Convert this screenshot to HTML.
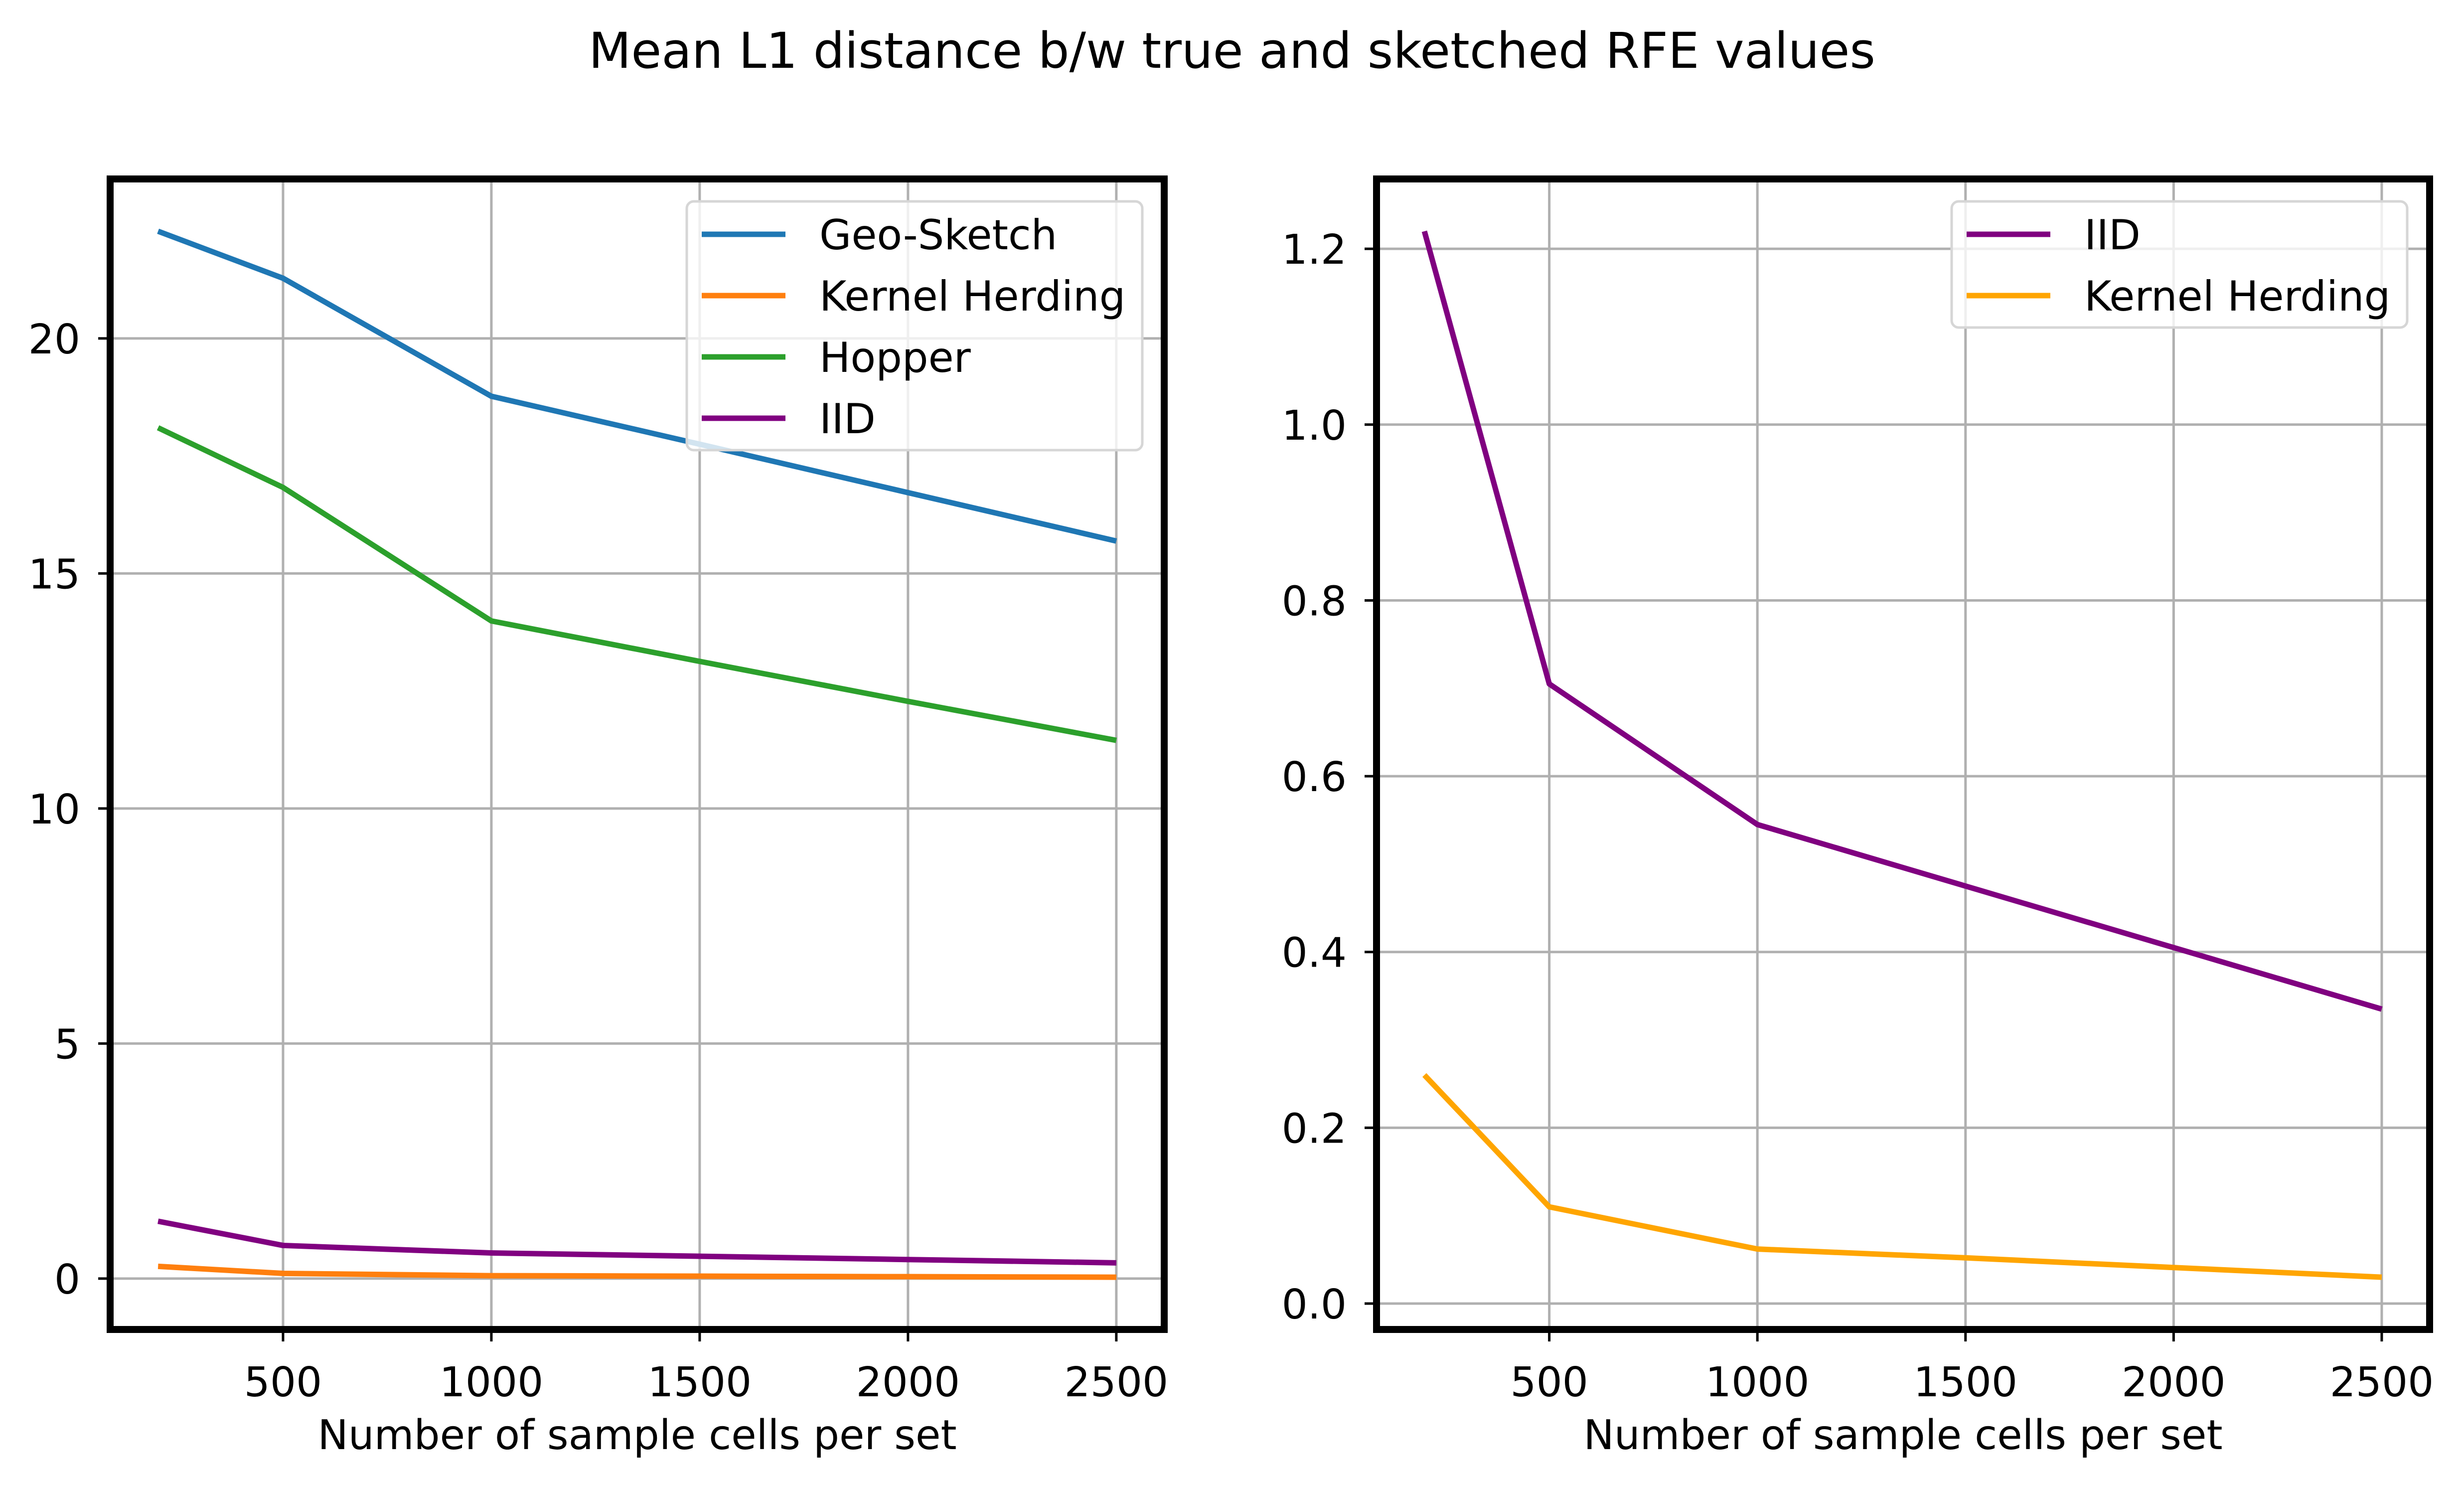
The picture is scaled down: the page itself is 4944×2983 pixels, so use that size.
<!DOCTYPE html>
<html><head><meta charset="utf-8"><style>
html,body{margin:0;padding:0;background:#fff;}
svg{display:block;font-family:"DejaVu Sans","Liberation Sans",sans-serif;}
</style></head><body>
<svg id="fig" width="4944" height="2983" viewBox="0 0 4944 2983" xmlns="http://www.w3.org/2000/svg">
<rect width="4944" height="2983" fill="#fff"/>
<text x="2472" y="136" font-size="99" text-anchor="middle">Mean L1 distance b/w true and sketched RFE values</text>
<g id="left"></g><g id="right"></g>
</svg>
<script>
const xValues = [200, 500, 1000, 1500, 2000, 2500];
const geoSketch = [22.28, 21.28, 18.77, 17.75, 16.72, 15.69];
const kernelHerding = [0.26, 0.11, 0.062, 0.052, 0.041, 0.03];
const hopper = [18.1, 16.83, 13.99, 13.13, 12.28, 11.45];
const iid = [1.22, 0.705, 0.545, 0.475, 0.405, 0.335];
const xTicks = [500, 1000, 1500, 2000, 2500];
const leftYTicks = [0, 5, 10, 15, 20];
const rightYTicks = [0.0, 0.2, 0.4, 0.6, 0.8, 1.0, 1.2];
const rightYLabels = ["0.0", "0.2", "0.4", "0.6", "0.8", "1.0", "1.2"];

const NS = "http://www.w3.org/2000/svg";
function mk(tag, attrs, parent) {
  const e = document.createElementNS(NS, tag);
  for (const k in attrs) e.setAttribute(k, attrs[k]);
  parent.appendChild(e);
  return e;
}
function extent(arrs) {
  let mn = Infinity, mx = -Infinity;
  arrs.forEach(a => a.forEach(v => { mn = Math.min(mn, v); mx = Math.max(mx, v); }));
  const m = (mx - mn) * 0.05;
  return [mn - m, mx + m];
}
function drawPanel(g, L, R, T, B, series, yTicks, yLabels, legend) {
  const xe = extent([xValues]);
  const ye = extent(series.map(s => s.data));
  const sx = v => L + (v - xe[0]) / (xe[1] - xe[0]) * (R - L);
  const sy = v => B - (v - ye[0]) / (ye[1] - ye[0]) * (B - T);
  xTicks.forEach(t => {
    const x = sx(t);
    const gl = mk('line', {x1: x, x2: x, y1: T, y2: B, stroke: '#b0b0b0', 'stroke-width': 5}, g);
    
    
    mk('line', {x1: x, x2: x, y1: B, y2: B + 24, stroke: '#000', 'stroke-width': 5}, g);
    const tx = mk('text', {x: x, y: B + 134, 'font-size': 82, 'text-anchor': 'middle'}, g);
    tx.textContent = t;
    
    
  });
  yTicks.forEach((t, i) => {
    const y = sy(t);
    const gl = mk('line', {x1: L, x2: R, y1: y, y2: y, stroke: '#b0b0b0', 'stroke-width': 5}, g);
    
    
    mk('line', {x1: L - 24, x2: L, y1: y, y2: y, stroke: '#000', 'stroke-width': 5}, g);
    const tx = mk('text', {x: L - 60, y: y + 30, 'font-size': 82, 'text-anchor': 'end'}, g);
    tx.textContent = yLabels[i];
    
    
  });
  series.forEach(s => {
    const p = mk('polyline', {points: s.data.map((v, i) => sx(xValues[i]) + ',' + sy(v)).join(' '), fill: 'none', stroke: s.color, 'stroke-width': 11, 'stroke-linejoin': 'round'}, g);
    
    
  });
  const fr = mk('rect', {x: L, y: T, width: R - L, height: B - T, fill: 'none', stroke: '#000', 'stroke-width': 14}, g);
  
  
  const lab = mk('text', {x: (L + R) / 2, y: B + 240, 'font-size': 82, 'text-anchor': 'middle'}, g);
  lab.textContent = 'Number of sample cells per set';
  
  
  const lg = mk('g', {}, g);
  
  
  mk('rect', {x: legend.x, y: legend.y, width: legend.w, height: 60 + 123 * (legend.items.length - 1) + 70, rx: 14, fill: 'rgba(255,255,255,0.8)', stroke: '#d6d6d6', 'stroke-width': 5}, lg);
  legend.items.forEach((it, i) => {
    const y = legend.y + 66 + 123 * i;
    const e = mk('g', {}, lg);
    
    
    mk('line', {x1: legend.x + 30, x2: legend.x + 198, y1: y, y2: y, stroke: it.color, 'stroke-width': 11}, e);
    const t = mk('text', {x: legend.x + 266, y: y + 30, 'font-size': 83}, e);
    t.textContent = it.name;
  });
}
drawPanel(document.getElementById('left'), 221, 2336, 359, 2667,
  [{name: 'geo-sketch-line', color: '#1f77b4', data: geoSketch},
   {name: 'kernel-herding-line', color: '#ff7f0e', data: kernelHerding},
   {name: 'hopper-line', color: '#2ca02c', data: hopper},
   {name: 'iid-line', color: '#800080', data: iid}],
  leftYTicks, leftYTicks.map(String),
  {x: 1378, y: 404, w: 914, items: [
    {name: 'Geo-Sketch', color: '#1f77b4'}, {name: 'Kernel Herding', color: '#ff7f0e'},
    {name: 'Hopper', color: '#2ca02c'}, {name: 'IID', color: '#800080'}]});
drawPanel(document.getElementById('right'), 2762, 4875, 359, 2667,
  [{name: 'iid-line', color: '#800080', data: iid},
   {name: 'kernel-herding-line', color: '#ffa500', data: kernelHerding}],
  rightYTicks, rightYLabels,
  {x: 3916, y: 404, w: 914, items: [
    {name: 'IID', color: '#800080'}, {name: 'Kernel Herding', color: '#ffa500'}]});
</script>
</body></html>
